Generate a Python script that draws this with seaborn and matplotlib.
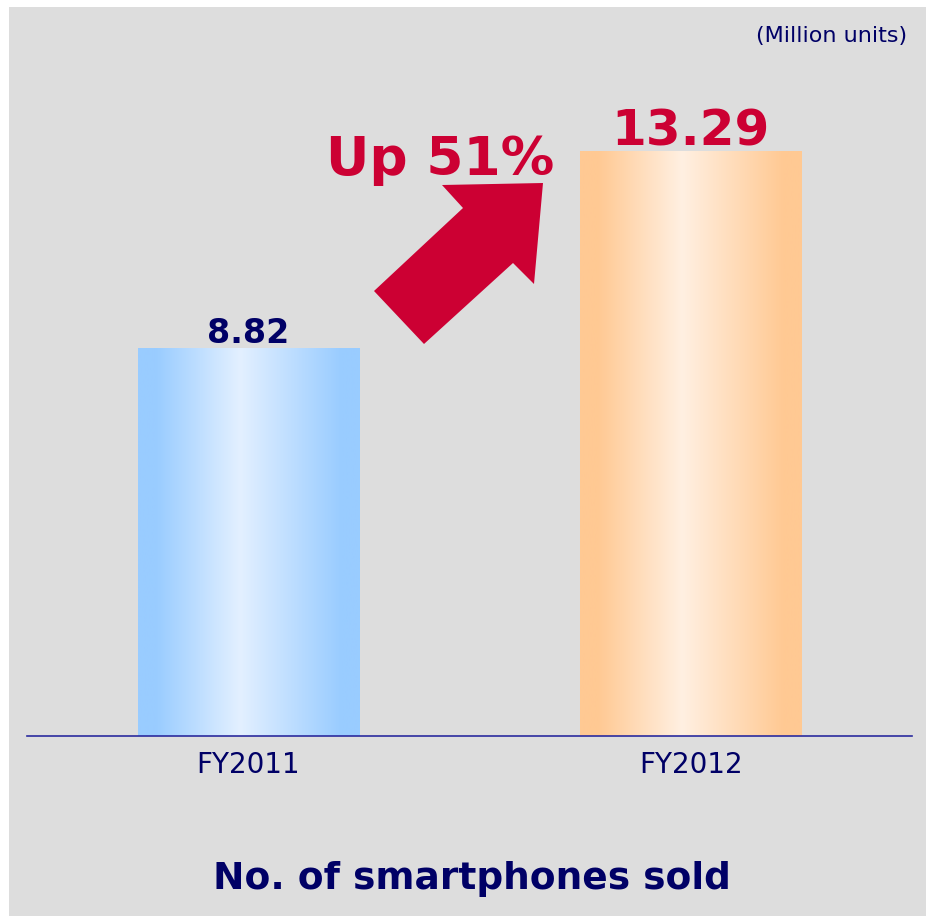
# Smartphones sold FY2011 vs FY2012
import numpy as np
import pandas as pd
import matplotlib
matplotlib.use("Agg")
import matplotlib.pyplot as plt
import matplotlib.patches as mpatches
from matplotlib.colors import LinearSegmentedColormap
import seaborn as sns

years = ["FY2011", "FY2012"]
units = [8.82, 13.29]
value_labels = ["8.82", "13.29"]
growth_label = "Up 51%"
unit_note = "(Million units)"
chart_title = "No. of smartphones sold"

navy = "#000066"
red = "#cc0033"
grey_bg = "#dddddd"
bar_edges = ["#99ccff", "#ffc993"]
bar_centres = ["#e3f0ff", "#fff0e2"]

sns.set_style("white")
plt.rcParams["font.family"] = ["DejaVu Sans"]

W, H = 926, 916
fig = plt.figure(figsize=(W / 100, H / 100), dpi=100, facecolor="white")

# grey panel behind everything
fig.patches.append(mpatches.Rectangle((9 / W, 0), 1 - 9 / W, (H - 7) / H,
                                      transform=fig.transFigure, facecolor=grey_bg,
                                      edgecolor="none", zorder=-1))

ax = fig.add_axes([27 / W, (H - 736) / H, 885 / W, 676 / H])
ax.set_facecolor("none")

df = pd.DataFrame({"year": years, "units": units})
sns.barplot(data=df, x="year", y="units", hue="year", palette=bar_edges,
            width=0.5, legend=False, ax=ax, zorder=2, linewidth=0)

ax.set_xlim(-0.5, 1.5)
ax.set_ylim(0, 676 / 43.95)

# horizontal gradient fill on each bar
grad = np.linspace(0, 1, 256)
for patch, c_edge, c_mid in zip(ax.patches, bar_edges, bar_centres):
    cmap = LinearSegmentedColormap.from_list(
        "g", [(0, c_edge), (0.08, c_edge), (0.46, c_mid), (0.92, c_edge), (1, c_edge)])
    x0, y0 = patch.get_x(), patch.get_y()
    w, h = patch.get_width(), patch.get_height()
    ax.imshow(grad[np.newaxis, :], cmap=cmap, aspect="auto",
              extent=[x0, x0 + w, y0, y0 + h], zorder=3)

ax.set_xlim(-0.5, 1.5)
ax.set_ylim(0, 676 / 43.95)

# value labels
ax.annotate(value_labels[0], (0, units[0]), xytext=(0, 3.6), textcoords="offset points",
            ha="center", va="baseline", fontsize=24, fontweight="bold", color=navy)
ax.annotate(value_labels[1], (1, units[1]), xytext=(0, 4.8), textcoords="offset points",
            ha="center", va="baseline", fontsize=36, fontweight="bold", color=red)

for side in ["left", "right", "top"]:
    ax.spines[side].set_visible(False)
ax.spines["bottom"].set_color("#2b2b9e")
ax.spines["bottom"].set_linewidth(1.2)
ax.spines["bottom"].set_zorder(4)

ax.set_yticks([])
ax.set_xticks([0, 1], years)
ax.tick_params(axis="x", length=0, pad=11, labelsize=20, labelcolor=navy)
ax.set_xlabel("")
ax.set_ylabel("")

# growth arrow (pixel outline of the decoration, image y downwards)
arrow_px = [(374, 291), (424, 344), (513, 263), (534, 284),
            (543, 183), (442, 185), (463, 208)]
arrow_fig = [(x / W, (H - y) / H) for x, y in arrow_px]
fig.patches.append(mpatches.Polygon(arrow_fig, closed=True, transform=fig.transFigure,
                                    facecolor=red, edgecolor="none", zorder=5))

fig.text(326 / W, (H - 175) / H, growth_label, ha="left", va="baseline",
         fontsize=38.5, fontweight="bold", color=red)
fig.text(907 / W, (H - 42) / H, unit_note, ha="right", va="baseline",
         fontsize=16, color=navy)
fig.text(472 / W, (H - 889) / H, chart_title, ha="center", va="baseline",
         fontsize=27, fontweight="bold", color=navy)

plt.savefig("out.png", dpi=100, facecolor=fig.get_facecolor())
